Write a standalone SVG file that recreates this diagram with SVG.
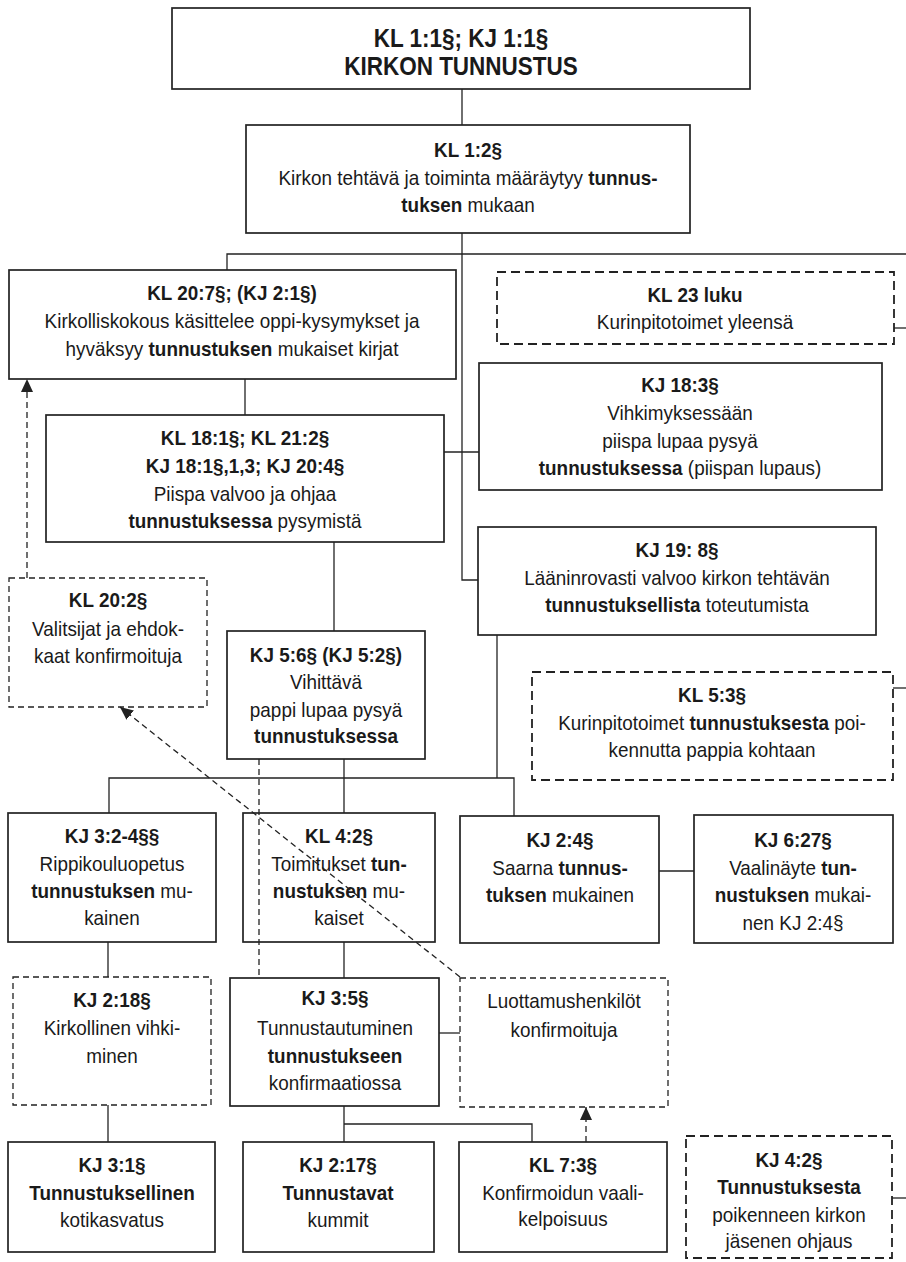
<svg xmlns="http://www.w3.org/2000/svg" width="906" height="1262" viewBox="0 0 906 1262">
<defs>
<style>
.box{fill:#fff;stroke:#222;stroke-width:1.7}
.dbox{fill:#fff;stroke:#222;stroke-width:1.8;stroke-dasharray:9 5}
.dbox2{fill:#fff;stroke:#222;stroke-width:1.3;stroke-dasharray:6 4}
.ln{fill:none;stroke:#222;stroke-width:1.3}
.dl{fill:none;stroke:#222;stroke-width:1.3;stroke-dasharray:6 4}
text{font-family:"Liberation Sans",Arial,sans-serif;font-size:21px;fill:#1a1a1a;text-anchor:middle}
.b{font-weight:bold}
.big{font-size:25px;font-weight:bold}
</style>
<marker id="ah" markerUnits="userSpaceOnUse" markerWidth="13" markerHeight="12" viewBox="0 0 13 12" refX="13" refY="6" orient="auto">
<path d="M0,0 L13,6 L0,12 z" fill="#222"/>
</marker>
</defs>
<rect width="906" height="1262" fill="#fff"/>

<g id="n-top"><rect class="box" x="172" y="8" width="578" height="81"/>
<text class="big" transform="matrix(0.9 0 0 1 461 0)"><tspan x="0" y="47">KL 1:1§; KJ 1:1§</tspan><tspan x="0" y="75">KIRKON TUNNUSTUS</tspan></text></g>

<g id="n-kl12"><rect class="box" x="246" y="125" width="444" height="108"/>
<text transform="matrix(0.9 0 0 1 468 0)"><tspan x="0" y="157" class="b">KL 1:2§</tspan><tspan x="0" y="185">Kirkon tehtävä ja toiminta määräytyy <tspan class="b">tunnus-</tspan></tspan><tspan x="0" y="212"><tspan class="b">tuksen</tspan> mukaan</tspan></text></g>

<g id="n-kl207"><rect class="box" x="9" y="270" width="447" height="109"/>
<text transform="matrix(0.9 0 0 1 232 0)"><tspan x="0" y="300" class="b">KL 20:7§; (KJ 2:1§)</tspan><tspan x="0" y="328">Kirkolliskokous käsittelee oppi-kysymykset ja</tspan><tspan x="0" y="356">hyväksyy <tspan class="b">tunnustuksen</tspan> mukaiset kirjat</tspan></text></g>

<g id="n-kl23"><rect class="dbox" x="497" y="272" width="397" height="72"/>
<text transform="matrix(0.9 0 0 1 695 0)"><tspan x="0" y="302" class="b">KL 23 luku</tspan><tspan x="0" y="329">Kurinpitotoimet yleensä</tspan></text></g>

<g id="n-kj183"><rect class="box" x="479" y="363" width="403" height="127"/>
<text transform="matrix(0.9 0 0 1 680 0)"><tspan x="0" y="392" class="b">KJ 18:3§</tspan><tspan x="0" y="420">Vihkimyksessään</tspan><tspan x="0" y="448">piispa lupaa pysyä</tspan><tspan x="0" y="475"><tspan class="b">tunnustuksessa</tspan> (piispan lupaus)</tspan></text></g>

<g id="n-kl181"><rect class="box" x="46" y="415" width="398" height="127"/>
<text transform="matrix(0.9 0 0 1 245 0)"><tspan x="0" y="445" class="b">KL 18:1§; KL 21:2§</tspan><tspan x="0" y="473" class="b">KJ 18:1§,1,3; KJ 20:4§</tspan><tspan x="0" y="501">Piispa valvoo ja ohjaa</tspan><tspan x="0" y="528"><tspan class="b">tunnustuksessa</tspan> pysymistä</tspan></text></g>

<g id="n-kj198"><rect class="box" x="478" y="527" width="398" height="108"/>
<text transform="matrix(0.9 0 0 1 677 0)"><tspan x="0" y="557" class="b">KJ 19: 8§</tspan><tspan x="0" y="585">Lääninrovasti valvoo kirkon tehtävän</tspan><tspan x="0" y="612"><tspan class="b">tunnustuksellista</tspan> toteutumista</tspan></text></g>

<g id="n-kl202"><rect class="dbox2" x="9" y="578" width="198" height="129"/>
<text transform="matrix(0.9 0 0 1 108 0)"><tspan x="0" y="607" class="b">KL 20:2§</tspan><tspan x="0" y="636">Valitsijat ja ehdok-</tspan><tspan x="0" y="663">kaat konfirmoituja</tspan></text></g>

<g id="n-kj56"><rect class="box" x="227" y="631" width="198" height="128"/>
<text transform="matrix(0.9 0 0 1 326 0)"><tspan x="0" y="662" class="b">KJ 5:6§ (KJ 5:2§)</tspan><tspan x="0" y="689">Vihittävä</tspan><tspan x="0" y="717">pappi lupaa pysyä</tspan><tspan x="0" y="743" class="b">tunnustuksessa</tspan></text></g>

<g id="n-kl53"><rect class="dbox" x="532" y="672" width="361" height="108"/>
<text transform="matrix(0.9 0 0 1 712 0)"><tspan x="0" y="702" class="b">KL 5:3§</tspan><tspan x="0" y="730">Kurinpitotoimet  <tspan class="b">tunnustuksesta</tspan> poi-</tspan><tspan x="0" y="757">kennutta pappia kohtaan</tspan></text></g>

<g id="n-kj324"><rect class="box" x="8" y="813" width="208" height="129"/>
<text transform="matrix(0.9 0 0 1 112 0)"><tspan x="0" y="843" class="b">KJ 3:2-4§§</tspan><tspan x="0" y="871">Rippikouluopetus</tspan><tspan x="0" y="898"><tspan class="b">tunnustuksen</tspan> mu-</tspan><tspan x="0" y="925">kainen</tspan></text></g>

<g id="n-kl42"><rect class="box" x="243" y="813" width="192" height="129"/>
<text transform="matrix(0.9 0 0 1 339 0)"><tspan x="0" y="843" class="b">KL 4:2§</tspan><tspan x="0" y="871">Toimitukset <tspan class="b">tun-</tspan></tspan><tspan x="0" y="898"><tspan class="b">nustuksen</tspan> mu-</tspan><tspan x="0" y="925">kaiset</tspan></text></g>

<g id="n-kj24"><rect class="box" x="460" y="816" width="199" height="127"/>
<text transform="matrix(0.9 0 0 1 560 0)"><tspan x="0" y="847" class="b">KJ 2:4§</tspan><tspan x="0" y="875">Saarna <tspan class="b">tunnus-</tspan></tspan><tspan x="0" y="902"><tspan class="b">tuksen</tspan> mukainen</tspan></text></g>

<g id="n-kj627"><rect class="box" x="694" y="815" width="199" height="128"/>
<text transform="matrix(0.9 0 0 1 793 0)"><tspan x="0" y="847" class="b">KJ 6:27§</tspan><tspan x="0" y="875">Vaalinäyte <tspan class="b">tun-</tspan></tspan><tspan x="0" y="902"><tspan class="b">nustuksen</tspan> mukai-</tspan><tspan x="0" y="930">nen KJ 2:4§</tspan></text></g>

<g id="n-kj218"><rect class="dbox2" x="13" y="977" width="198" height="128"/>
<text transform="matrix(0.9 0 0 1 112 0)"><tspan x="0" y="1007" class="b">KJ 2:18§</tspan><tspan x="0" y="1035">Kirkollinen vihki-</tspan><tspan x="0" y="1063">minen</tspan></text></g>

<g id="n-kj35"><rect class="box" x="230" y="978" width="209" height="128"/>
<text transform="matrix(0.9 0 0 1 335 0)"><tspan x="0" y="1005" class="b">KJ 3:5§</tspan><tspan x="0" y="1035">Tunnustautuminen</tspan><tspan x="0" y="1063" class="b">tunnustukseen</tspan><tspan x="0" y="1090">konfirmaatiossa</tspan></text></g>

<g id="n-luott"><rect class="dbox2" x="460" y="978" width="208" height="129"/>
<text transform="matrix(0.9 0 0 1 564 0)"><tspan x="0" y="1008">Luottamushenkilöt</tspan><tspan x="0" y="1037">konfirmoituja</tspan></text></g>

<g id="n-kj31"><rect class="box" x="8" y="1142" width="207" height="110"/>
<text transform="matrix(0.9 0 0 1 112 0)"><tspan x="0" y="1172" class="b">KJ 3:1§</tspan><tspan x="0" y="1200" class="b">Tunnustuksellinen</tspan><tspan x="0" y="1227">kotikasvatus</tspan></text></g>

<g id="n-kj217"><rect class="box" x="243" y="1142" width="191" height="110"/>
<text transform="matrix(0.9 0 0 1 338 0)"><tspan x="0" y="1172" class="b">KJ 2:17§</tspan><tspan x="0" y="1200" class="b">Tunnustavat</tspan><tspan x="0" y="1227">kummit</tspan></text></g>

<g id="n-kl73"><rect class="box" x="459" y="1142" width="208" height="110"/>
<text transform="matrix(0.9 0 0 1 563 0)"><tspan x="0" y="1172" class="b">KL 7:3§</tspan><tspan x="0" y="1200">Konfirmoidun vaali-</tspan><tspan x="0" y="1226">kelpoisuus</tspan></text></g>

<g id="n-kj42"><rect class="dbox" x="686" y="1136" width="206" height="122"/>
<text transform="matrix(0.9 0 0 1 789 0)"><tspan x="0" y="1167" class="b">KJ 4:2§</tspan><tspan x="0" y="1194" class="b">Tunnustuksesta</tspan><tspan x="0" y="1222">poikenneen kirkon</tspan><tspan x="0" y="1248">jäsenen ohjaus</tspan></text></g>

<g id="connectors">
<path class="ln" d="M462,89 V125"/>
<path class="ln" d="M462,233 V580 H478"/>
<path class="ln" d="M227,270 V254 H906"/>
<path class="ln" d="M245,379 V415"/>
<path class="ln" d="M444,452 H479"/>
<path class="ln" d="M894,328 H906"/>
<path class="ln" d="M893,688 H906"/>
<path class="ln" d="M892,1198 H906"/>
<path class="ln" d="M334,542 V631"/>
<path class="ln" d="M344,759 V813"/>
<path class="ln" d="M109,813 V778 H514 V816"/>
<path class="ln" d="M497,635 V778"/>
<path class="ln" d="M659,871 H694"/>
<path class="ln" d="M108,942 V977"/>
<path class="ln" d="M108,1105 V1142"/>
<path class="ln" d="M344,942 V978"/>
<path class="ln" d="M439,1033 H460"/>
<path class="ln" d="M344,1106 V1142 M344,1124 H532 V1142"/>
<path class="dl" d="M259,759 V978"/>
<path class="dl" d="M460,977 L120,707" marker-end="url(#ah)"/>
<path class="dl" d="M586,1142 V1107" marker-end="url(#ah)"/>
<path class="dl" d="M27,578 V379" marker-end="url(#ah)"/>
</g>
</svg>
